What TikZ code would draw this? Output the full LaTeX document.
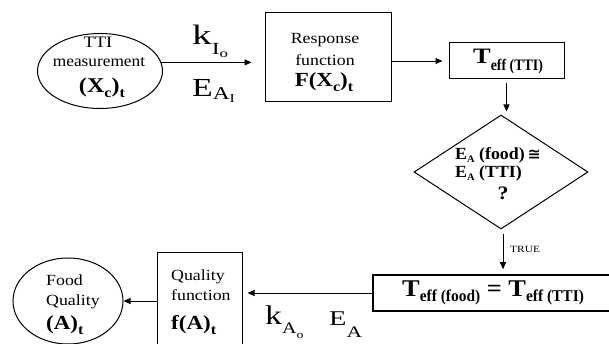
\documentclass[tikz,border=0pt]{standalone}
\usepackage{graphicx}
\usepackage{fontspec}
\setmainfont{Liberation Serif}
\newfontfamily\symfont{DejaVu Sans}
\usetikzlibrary{shapes.geometric,arrows.meta}

% font size in pt, with matching baseline skip
\newcommand\fs[1]{\fontsize{#1}{#1}\selectfont}
% lowered text: shift, size, text
\newcommand\lowered[3]{\raisebox{-#1}{\fs{#2}#3}}
% widened lettering: factor, text
\newcommand\wider[2]{\scalebox{#1}[1]{#2}}
\newcommand\wide[1]{\wider{1.15}{#1}}

\begin{document}
\begin{tikzpicture}[x=1pt,y=-1pt,
  shapeline/.style={draw, line width=1pt, inner sep=0pt},
  flow/.style={line width=0.9pt, -{Triangle[length=7pt,width=6pt]}},
  lbl/.style={inner sep=0pt, anchor=base},
  lbll/.style={inner sep=0pt, anchor=base west}]
\useasboundingbox (0,0) rectangle (609,344);
\begin{scope}
\clip (0,0) rectangle (609,344);

% ---- shapes ----
\node[shapeline, ellipse, minimum width=125pt, minimum height=75pt] (tti) at (100,71) {};
\node[shapeline, rectangle, minimum width=126pt, minimum height=89pt] (resp) at (328,57.5) {};
\node[shapeline, minimum width=115pt, minimum height=36pt] (teff) at (506.5,61) {};
\node[shapeline, diamond, minimum width=174pt, minimum height=114pt] (test) at (501,172) {};
\node[shapeline, line width=1.6pt, minimum width=244pt, minimum height=36pt] (teq) at (495,293) {};
\node[shapeline, minimum width=85pt, minimum height=104pt] (qual) at (199.5,304) {};
\node[shapeline, ellipse, minimum width=110pt, minimum height=86pt] (food) at (68,301) {};

% ---- connectors ----
\draw[flow, shorten >=13pt] (tti.8) -- (tti.8 -| resp.west);
\draw[flow, shorten >=6pt] (resp.east |- teff.west) -- (teff.west);
\draw[flow, shorten <=4pt, shorten >=3pt] (teff.south) -- (teff.south |- test.north);
\draw[flow, shorten <=5pt, shorten >=5pt] ([xshift=2pt]test.south) -- ([xshift=2pt]test.south |- teq.north);
\draw[flow, shorten >=5pt] (teq.west) -- (teq.west -| qual.east);
\draw[flow] (qual.west |- food.east) -- (food.east);

% ---- TTI measurement ----
\node[lbl] (ttia) at (98,47.5) {\wide{\fs{16}TTI}};
\node[lbl] (ttib) at (99,67) {\wider{1.08}{\fs{16}measurement}};
\node[lbl] (ttic) at (102,93) {\wide{\fs{21}\bfseries (X\lowered{5pt}{14}{c})\lowered{5pt}{14}{t}}};

% ---- rate constants of the indicator ----
\node[lbll] (kI) at (192,45) {\wider{1.4}{\fs{28}k\lowered{10pt}{17}{I\lowered{3pt}{12}{o}}}};
\node[lbll] (EI) at (192,97) {\wider{1.3}{\fs{26}E\lowered{3pt}{18}{A\lowered{3pt}{12}{I}}}};

% ---- response function ----
\node[lbl] (ra) at (325,44) {\wide{\fs{15.5}Response}};
\node[lbl] (rb) at (325,66) {\wide{\fs{15.5}function}};
\node[lbl] (rc) at (324,87) {\wide{\fs{20}\bfseries F(X\lowered{5pt}{14}{c})\lowered{5pt}{14}{t}}};

% ---- effective temperature of the indicator ----
\node[lbll] (te) at (473,64) {\bfseries\wider{1.2}{\fs{22}T}\lowered{7pt}{16}{\wider{0.87}{eff (TTI)}}};

% ---- decision ----
\node[lbll] (da) at (455,160) {\wider{1.05}{\fs{17}\bfseries E\lowered{3pt}{10}{A} (food)\,{\symfont\fs{15}\bfseries ≅}}};
\node[lbll] (db) at (455,178) {\wider{1.05}{\fs{17}\bfseries E\lowered{3pt}{10}{A} (TTI)}};
\node[lbl] (dc) at (503,200) {\wide{\fs{19}\bfseries ?}};
\node[lbll] (tr) at (510,252) {\wider{1.2}{\fs{9.5}TRUE}};

% ---- equal effective temperatures ----
\node[lbll] (eq) at (402,296) {\wider{1.1}{\fs{24}\bfseries T\lowered{5pt}{16.5}{\wider{0.85}{eff (food)}} = T\lowered{5pt}{16.5}{\wider{0.85}{eff (TTI)}}}};

% ---- rate constants of the food ----
\node[lbll] (kA) at (265,324) {\wider{1.25}{\fs{27}k\lowered{9pt}{16}{A\lowered{5pt}{11}{o}}}};
\node[lbll] (EA) at (329,325) {\wider{1.35}{\fs{21}E\lowered{12pt}{16}{A}}};

% ---- quality function ----
\node[lbll] (qa) at (171,280) {\wide{\fs{15.5}Quality}};
\node[lbll] (qb) at (171,300) {\wide{\fs{15.5}function}};
\node[lbll] (qc) at (171,329) {\wide{\fs{20}\bfseries f(A)\lowered{5pt}{14}{t}}};

% ---- food quality ----
\node[lbll] (fa) at (46,285) {\wide{\fs{15.5}Food}};
\node[lbll] (fb) at (46,305) {\wide{\fs{15.5}Quality}};
\node[lbll] (fc) at (46,329) {\wide{\fs{20}\bfseries (A)\lowered{5pt}{14}{t}}};
\end{scope}
\end{tikzpicture}
\end{document}
